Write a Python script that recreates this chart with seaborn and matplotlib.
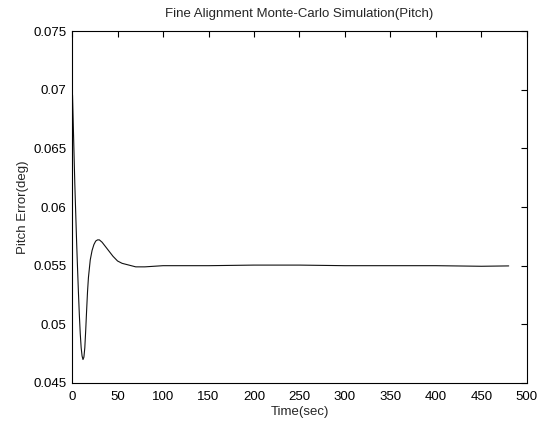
import matplotlib
matplotlib.use("Agg")
import matplotlib.pyplot as plt
import seaborn as sns
import pandas as pd

time_sec = [0, 0.5, 1, 2, 3, 4, 5, 6, 7, 8, 9, 10, 11, 12, 13, 14, 15, 16, 17, 18, 20, 22, 24, 26, 28, 30,
            33, 36, 40, 45, 50, 55, 60, 65, 70, 75, 80, 90, 100, 120, 150, 200, 250, 300, 350, 400, 450, 480]
pitch_err = [0.0700, 0.0695, 0.0680, 0.0650, 0.0620, 0.0595, 0.0570, 0.0548, 0.0527, 0.0508, 0.0492,
             0.0480, 0.0473, 0.0470, 0.0472, 0.0480, 0.0495, 0.0512, 0.0528, 0.0540, 0.0555, 0.0563,
             0.0568, 0.0571, 0.0572, 0.0572, 0.0570, 0.0567, 0.0563, 0.0558, 0.0554, 0.0552, 0.0551,
             0.0550, 0.0549, 0.0549, 0.0549, 0.05495, 0.0550, 0.0550, 0.0550, 0.05505, 0.05505, 0.0550,
             0.0550, 0.0550, 0.05495, 0.05498]

df = pd.DataFrame({"t": time_sec, "e": pitch_err})

sns.set_theme(style="white")
plt.rcParams['font.family'] = ['Liberation Sans', 'DejaVu Sans']

fig = plt.figure(figsize=(5.46, 4.26), dpi=100)
ax = fig.add_axes([0.132, 0.101, 0.833, 0.826])
sns.lineplot(data=df, x="t", y="e", ax=ax, color="#111111", linewidth=0.8)

ax.set_xlim(0, 500)
ax.set_ylim(0.045, 0.075)
ax.set_xticks([0, 50, 100, 150, 200, 250, 300, 350, 400, 450, 500])
ax.set_yticks([0.045, 0.05, 0.055, 0.06, 0.065, 0.07, 0.075])
ax.set_yticklabels(["0.045", "0.05", "0.055", "0.06", "0.065", "0.07", "0.075"])
ax.tick_params(direction="in", top=True, right=True, length=4, width=0.8, labelsize=9.5, colors="black")
ax.tick_params(axis="x", pad=6)
ax.tick_params(axis="y", pad=4)
for s in ax.spines.values():
    s.set_color("black")
    s.set_linewidth(0.8)
ax.set_xlabel("Time(sec)", fontsize=9.5, labelpad=2)
ax.set_ylabel("Pitch Error(deg)", fontsize=9.5, labelpad=3)
ax.set_title("Fine Alignment Monte-Carlo Simulation(Pitch)", fontsize=9.5, pad=10)

fig.savefig("out.png", dpi=100)
